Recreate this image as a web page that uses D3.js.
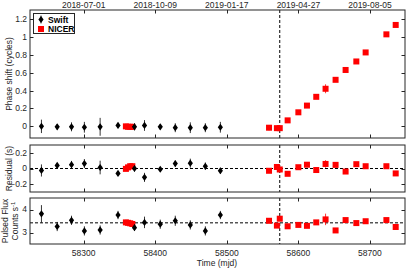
<!DOCTYPE html>
<html><head><meta charset="utf-8">
<script src="https://cdn.jsdelivr.net/npm/d3@7"></script>
<style>body{margin:0;background:#fff}svg{display:block}text{font-family:"Liberation Sans",Arial,sans-serif}</style>
</head><body><svg id="c" width="407" height="268"></svg>
<script>
// ---- data ----
const swiftTime = [58241, 58263, 58283, 58301, 58323, 58348, 58371, 58385, 58407, 58428, 58449, 58470, 58491];
const swiftPhase = [0.0, -0.005, -0.005, -0.01, -0.005, 0.01, -0.005, 0.01, -0.005, -0.015, -0.015, -0.015, -0.01];
const swiftPhaseErr = [0.075, 0.03, 0.05, 0.06, 0.1, 0.03, 0.04, 0.06, 0.03, 0.05, 0.06, 0.05, 0.06];
const swiftResid = [-0.026, 0.04, 0.05, 0.065, 0.013, -0.065, 0.0, -0.117, -0.01, 0.065, 0.07, 0.03, -0.03];
const swiftResidErr = [0.08, 0.03, 0.05, 0.06, 0.09, 0.03, 0.04, 0.06, 0.03, 0.04, 0.06, 0.05, 0.04];
const swiftFlux = [3.81, 3.26, 3.53, 3.07, 3.11, 3.76, 3.21, 3.44, 3.36, 3.51, 3.33, 3.07, 3.76];
const swiftFluxErr = [0.38, 0.2, 0.2, 0.2, 0.2, 0.18, 0.14, 0.25, 0.2, 0.22, 0.2, 0.2, 0.18];

const nicerTime = [58359, 58362, 58365, 58368, 58559, 58570, 58574, 58585, 58600, 58612, 58625, 58638, 58652, 58666, 58681, 58694, 58723, 58736];
const nicerPhase = [0.0, -0.005, -0.005, -0.005, -0.015, -0.02, -0.02, 0.067, 0.157, 0.232, 0.33, 0.42, 0.52, 0.63, 0.725, 0.826, 1.028, 1.133];
const nicerPhaseErr = [0.01, 0.01, 0.01, 0.01, 0.03, 0.02, 0.02, 0.02, 0.02, 0.02, 0.02, 0.05, 0.02, 0.02, 0.02, 0.02, 0.02, 0.02];
const nicerResid = [-0.005, 0.015, 0.03, 0.03, -0.03, 0.02, -0.013, -0.07, 0.017, 0.05, -0.02, 0.06, 0.048, -0.04, 0.057, 0.03, 0.03, -0.065];
const nicerResidErr = [0.01, 0.01, 0.01, 0.01, 0.03, 0.02, 0.02, 0.02, 0.02, 0.02, 0.02, 0.05, 0.02, 0.02, 0.02, 0.02, 0.02, 0.02];
const nicerFlux = [3.44, 3.42, 3.40, 3.37, 3.51, 3.30, 3.60, 3.27, 3.33, 3.29, 3.44, 3.57, 3.09, 3.54, 3.41, 3.49, 3.54, 3.24];
const nicerFluxErr = [0.03, 0.03, 0.03, 0.03, 0.12, 0.06, 0.06, 0.08, 0.06, 0.06, 0.06, 0.25, 0.06, 0.06, 0.06, 0.06, 0.06, 0.06];

const xTicks = [58300, 58400, 58500, 58600, 58700];
const topTickLabels = ["2018-07-01", "2018-10-09", "2019-01-17", "2019-04-27", "2019-08-05"];
const phaseTicks = [0, 0.2, 0.4, 0.6, 0.8, 1, 1.2];
const residTicks = [-0.2, 0, 0.2];
const fluxTicks = [3, 4];
const transitionTime = 58574;
const meanFlux = 3.42;

// ---- drawing ----
const svg = d3.select("#c");
const axisColor = "#262626";
const x = d3.scaleLinear().domain([58225, 58749]).range([30, 405]);
const panels = [
  {y: d3.scaleLinear().domain([-0.13, 1.3]).range([138, 10]), ticks: phaseTicks, fmt: d3.format("~g"),
   sw: swiftPhase, swe: swiftPhaseErr, nv: nicerPhase, ne: nicerPhaseErr, hline: null},
  {y: d3.scaleLinear().domain([-0.31, 0.31]).range([192, 145]), ticks: residTicks, fmt: d3.format("~g"),
   sw: swiftResid, swe: swiftResidErr, nv: nicerResid, ne: nicerResidErr, hline: 0},
  {y: d3.scaleLinear().domain([2.5, 4.5]).range([244, 198]), ticks: fluxTicks, fmt: d3.format("d"),
   sw: swiftFlux, swe: swiftFluxErr, nv: nicerFlux, ne: nicerFluxErr, hline: meanFlux}
];
const diamond = "M0,-3.6L2.6,0L0,3.6L-2.6,0Z";

panels.forEach(p => {
  const g = svg.append("g");
  const [y1, y0] = p.y.range();
  g.append("rect").attr("x", 30).attr("y", y0).attr("width", 375).attr("height", y1 - y0).attr("fill", "#fff");
  if (p.hline !== null) {
    g.append("line").attr("x1", 30).attr("x2", 405).attr("y1", p.y(p.hline)).attr("y2", p.y(p.hline))
      .attr("stroke", "#000").attr("stroke-width", 1).attr("stroke-dasharray", "3,2");
  }
  g.append("line").attr("x1", x(transitionTime)).attr("x2", x(transitionTime)).attr("y1", y0).attr("y2", y1)
    .attr("stroke", "#000").attr("stroke-width", 1).attr("stroke-dasharray", "3,2");
  // NICER
  p.nv.forEach((v, k) => {
    g.append("line").attr("x1", x(nicerTime[k])).attr("x2", x(nicerTime[k]))
      .attr("y1", p.y(v - p.ne[k])).attr("y2", p.y(v + p.ne[k])).attr("stroke", "#ff0000").attr("stroke-width", 0.8);
  });
  p.nv.forEach((v, k) => {
    g.append("rect").attr("x", x(nicerTime[k]) - 3).attr("y", p.y(v) - 3).attr("width", 6).attr("height", 6)
      .attr("fill", "#ff0000");
  });
  // Swift
  p.sw.forEach((v, k) => {
    g.append("line").attr("x1", x(swiftTime[k])).attr("x2", x(swiftTime[k]))
      .attr("y1", p.y(v - p.swe[k])).attr("y2", p.y(v + p.swe[k])).attr("stroke", "#000").attr("stroke-width", 0.8);
    g.append("path").attr("d", diamond).attr("transform", `translate(${x(swiftTime[k])},${p.y(v)})`).attr("fill", "#000");
  });
  // frame
  g.append("rect").attr("x", 30).attr("y", y0).attr("width", 375).attr("height", y1 - y0)
    .attr("fill", "none").attr("stroke", axisColor).attr("stroke-width", 1);
  p.ticks.forEach(t => {
    const yy = Math.round(p.y(t)) + 0.5;
    g.append("line").attr("x1", 30).attr("x2", 33.5).attr("y1", yy).attr("y2", yy).attr("stroke", axisColor);
    g.append("line").attr("x1", 401.5).attr("x2", 405).attr("y1", yy).attr("y2", yy).attr("stroke", axisColor);
    g.append("text").attr("x", 27).attr("y", p.y(t)).attr("dy", "0.35em").attr("text-anchor", "end")
      .attr("font-size", 8.5).attr("fill", axisColor).text(p.fmt(t));
  });
  xTicks.forEach(t => {
    const xx = Math.round(x(t)) + 0.5;
    g.append("line").attr("x1", xx).attr("x2", xx).attr("y1", y0).attr("y2", y0 + 3.5).attr("stroke", axisColor);
    g.append("line").attr("x1", xx).attr("x2", xx).attr("y1", y1).attr("y2", y1 - 3.5).attr("stroke", axisColor);
  });
});

xTicks.forEach(t => {
  svg.append("text").attr("x", x(t)).attr("y", 256).attr("text-anchor", "middle")
    .attr("font-size", 8.5).attr("fill", axisColor).text(t);
});
xTicks.forEach((t, i) => {
  svg.append("text").attr("x", x(t)).attr("y", 7.5).attr("text-anchor", "middle")
    .attr("font-size", 8.5).attr("fill", axisColor).text(topTickLabels[i]);
});
svg.append("text").attr("x", 217).attr("y", 266).attr("text-anchor", "middle")
  .attr("font-size", 8.5).attr("fill", axisColor).text("Time (mjd)");
svg.append("text").attr("transform", "translate(12,74) rotate(-90)").attr("text-anchor", "middle")
  .attr("font-size", 8.5).attr("fill", axisColor).text("Phase shift (cycles)");
svg.append("text").attr("transform", "translate(12,168.5) rotate(-90)").attr("text-anchor", "middle")
  .attr("font-size", 8.5).attr("fill", axisColor).text("Residual (s)");
svg.append("text").attr("transform", "translate(8,221) rotate(-90)").attr("text-anchor", "middle")
  .attr("font-size", 8.5).attr("fill", axisColor).text("Pulsed Flux");
const cl = svg.append("text").attr("transform", "translate(18,221) rotate(-90)").attr("text-anchor", "middle")
  .attr("font-size", 8.5).attr("fill", axisColor);
cl.append("tspan").text("Counts s");
cl.append("tspan").attr("dy", -3).attr("font-size", 6).text("-1");

const lg = svg.append("g");
lg.append("rect").attr("x", 33.5).attr("y", 13.5).attr("width", 41).attr("height", 20)
  .attr("fill", "#fff").attr("stroke", axisColor).attr("stroke-width", 1);
lg.append("line").attr("x1", 41).attr("x2", 41).attr("y1", 15.5).attr("y2", 23.5).attr("stroke", "#000").attr("stroke-width", 0.8);
lg.append("path").attr("d", diamond).attr("transform", "translate(41,19.5)").attr("fill", "#000");
lg.append("text").attr("x", 48).attr("y", 22.5).attr("font-size", 8.5).attr("font-weight", "bold").attr("fill", "#000").text("Swift");
lg.append("rect").attr("x", 38).attr("y", 26).attr("width", 6).attr("height", 6).attr("fill", "#ff0000");
lg.append("text").attr("x", 48).attr("y", 32).attr("font-size", 8.5).attr("font-weight", "bold").attr("fill", "#000").text("NICER");
</script></body></html>
